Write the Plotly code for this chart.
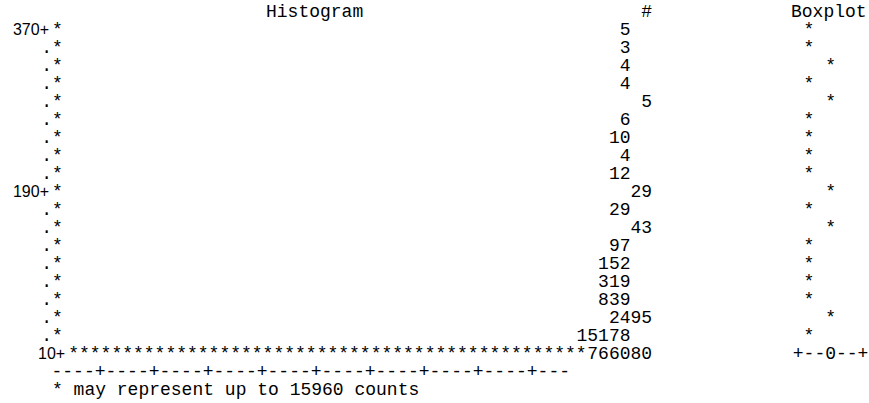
import math
import plotly.graph_objects as go

# ---------------- data ----------------
bin_midpoints = [370, 350, 330, 310, 290, 270, 250, 230, 210, 190,
                 170, 150, 130, 110, 90, 70, 50, 30, 10]
frequencies = [5, 3, 4, 4, 5, 6, 10, 4, 12, 29,
               29, 43, 97, 152, 319, 839, 2495, 15178, 766080]
tick_values = [370, 190, 10]
tick_labels = ["370+", "190+", "10+"]
box_symbols = ["*"] * 18 + ["+--0--+"]
counts_per_star = 15960
title_text = "Histogram"
count_header = "#"
box_header = "Boxplot"

# ---------------- layout / style constants ----------------
W, H = 869, 403
FS = 18                     # monospace font size
CW = 0.6 * FS               # monospace advance width
MONO = "Liberation Mono, Courier New, monospace"
SANS = "Liberation Sans, Arial, sans-serif"
INK = "#000000"

BAR_X0 = 52.0               # left edge of the histogram bars
COUNT_RIGHT = 630.5         # right edge of the '#' column
BOX_CENTER = 809.0          # centre of the boxplot column
# rendering offsets (in characters) seen in the reference listing
count_shift = [0, 0, 0, 0, 2, 0, 0, 0, 0, 2, 0, 2, 0, 0, 0, 0, 2, 0, 2]
box_shift = [0, 0, 2, 0, 2, 0, 0, 0, 0, 2, 0, 2, 0, 0, 0, 0, 2, 0, 2]
bar_shift = [0] * 18 + [1.5]

ROW_PX = 18.0
FIRST_ROW_PX = 30.5
step = bin_midpoints[0] - bin_midpoints[1]
units_per_px = step / ROW_PX
y_top = bin_midpoints[0] + FIRST_ROW_PX * units_per_px
y_bottom = y_top - H * units_per_px
header_y = bin_midpoints[0] + step
axis_y = bin_midpoints[-1] - step
note_y = bin_midpoints[-1] - 2 * step

# ---------------- derived marks ----------------
n_stars = [max(1, math.ceil(f / counts_per_star)) for f in frequencies]
bar_text = ["*" * n for n in n_stars]
bar_x = [BAR_X0 + s * CW for s in bar_shift]
max_stars = max(n_stars)
axis_text = "".join("+" if (i + 1) % 5 == 0 else "-" for i in range(max_stars))
note_text = f"* may represent up to {counts_per_star} counts"

fig = go.Figure()


def text_trace(x, y, text, pos, font=MONO, size=FS):
    fig.add_trace(go.Scatter(
        x=x, y=y, text=text, mode="text", textposition=pos,
        textfont=dict(family=font, size=size, color=INK),
        hoverinfo="skip", showlegend=False, cliponaxis=False))


# header
text_trace([266, COUNT_RIGHT + 2 * CW, 791], [header_y] * 3,
           [title_text, count_header, box_header],
           ["middle right", "middle left", "middle right"])

# axis tick labels and dots
lab_x, lab_y, lab_t = [], [], []
dot_x, dot_y = [], []
for i, v in enumerate(bin_midpoints):
    if v in tick_values:
        lab_x.append(bar_x[i] - 3)
        lab_y.append(v)
        lab_t.append(tick_labels[tick_values.index(v)])
    else:
        dot_x.append(BAR_X0)
        dot_y.append(v)
text_trace(lab_x, lab_y, lab_t, "middle left", font=SANS, size=16)
text_trace(dot_x, dot_y, ["."] * len(dot_x), "middle left")

# bars
text_trace(bar_x, bin_midpoints, bar_text, "middle right")

# counts
text_trace([COUNT_RIGHT + s * CW for s in count_shift], bin_midpoints,
           [str(f) for f in frequencies], "middle left")

# boxplot
text_trace([BOX_CENTER + s * CW for s in box_shift], bin_midpoints,
           box_symbols, "middle center")

# horizontal axis and note
text_trace([BAR_X0 - 0.5], [axis_y], [axis_text], "middle right")
text_trace([BAR_X0], [note_y], [note_text], "middle right")

fig.update_layout(
    width=W, height=H,
    margin=dict(l=0, r=0, t=0, b=0),
    paper_bgcolor="white", plot_bgcolor="white",
    xaxis=dict(range=[0, W], visible=False, fixedrange=True),
    yaxis=dict(range=[y_bottom, y_top], visible=False, fixedrange=True),
    showlegend=False,
)

fig.write_html(
    "out.html",
    config={"displayModeBar": False},
    post_script="document.body.style.margin='0';document.body.style.padding='0';"
                "document.body.style.overflow='hidden';",
)
